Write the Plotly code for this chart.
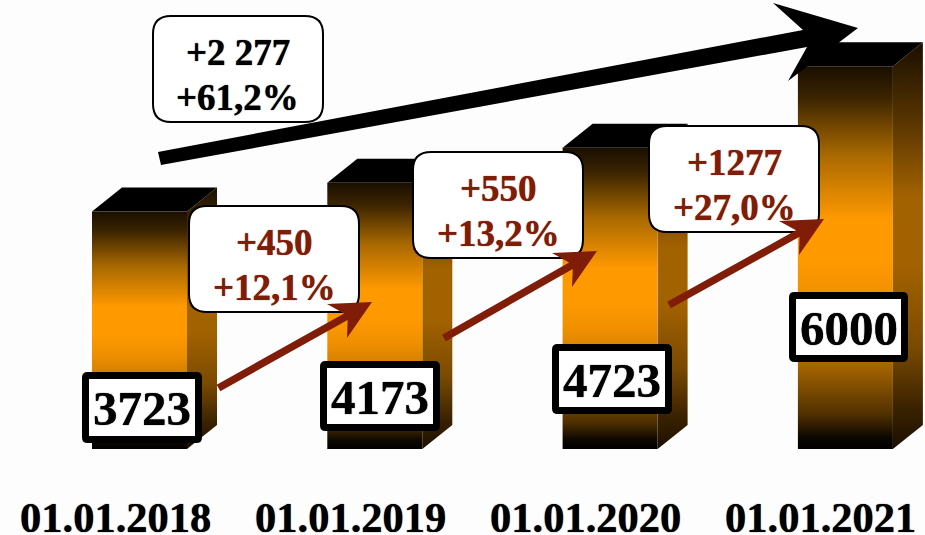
import plotly.graph_objects as go

# ---- data ----
dates = ["01.01.2018", "01.01.2019", "01.01.2020", "01.01.2021"]
values = [3723, 4173, 4723, 6000]
step_abs = ["+450", "+550", "+1277"]
step_pct = ["+12,1%", "+13,2%", "+27,0%"]
total_abs = ["+2 277"]
total_pct = ["+61,2%"]

# ---- layout constants ----
W, H = 925, 535
FONT = "Liberation Serif"
RED = "#7F1D08"
PX_PER_CAT = 235.3
CAT0_PX = 139.5
PX_PER_VAL = 0.0638
BASE_PX = 449
HALF_W = 47.5 / PX_PER_CAT
DX = 30 / PX_PER_CAT
DY = 24 / PX_PER_VAL


def fx(px):
    return px / W


def fy(px):
    return 1 - px / H


def path(points):
    return "M" + " L".join(f"{fx(x):.5f},{fy(y):.5f}" for x, y in points) + " Z"


def rounded(x0, y0, x1, y1, r):
    a, b = r / W, r / H
    l, rr, t, bt = fx(x0), fx(x1), fy(y0), fy(y1)
    return (f"M{l+a:.5f},{t:.5f} L{rr-a:.5f},{t:.5f} Q{rr:.5f},{t:.5f} {rr:.5f},{t-b:.5f} "
            f"L{rr:.5f},{bt+b:.5f} Q{rr:.5f},{bt:.5f} {rr-a:.5f},{bt:.5f} "
            f"L{l+a:.5f},{bt:.5f} Q{l:.5f},{bt:.5f} {l:.5f},{bt+b:.5f} "
            f"L{l:.5f},{t-b:.5f} Q{l:.5f},{t:.5f} {l+a:.5f},{t:.5f} Z")


front_scale = [[0, "#000000"], [0.03, "#0c0700"], [0.09, "#4f3000"], [0.245, "#b87000"], [0.40, "#f09000"],
               [0.49, "#ff9900"], [0.60, "#ff9900"], [0.77, "#a86800"], [0.92, "#3a2300"], [1, "#1a0f00"]]
side_scale = [[0, "#1a0f00"], [0.10, "#3a2200"], [0.25, "#7a4a00"], [0.45, "#a36200"],
              [0.62, "#a36200"], [0.80, "#5a3600"], [1, "#1a0f00"]]

fig = go.Figure()
for i, v in enumerate(values):
    l, r = i - HALF_W, i + HALF_W
    common = dict(mode="lines", line=dict(width=0), hoverinfo="skip", showlegend=False, fill="toself")
    fig.add_trace(go.Scatter(x=[r, r + DX, r + DX, r, r], y=[v, v + DY, DY, 0, v],
                             fillgradient=dict(type="vertical", colorscale=side_scale), **common))
    fig.add_trace(go.Scatter(x=[l, l + DX, r + DX, r, l], y=[v, v + DY, v + DY, v, v],
                             fillcolor="#000000", **common))
    fig.add_trace(go.Scatter(x=[l, r, r, l, l], y=[0, 0, v, v, 0],
                             fillgradient=dict(type="vertical", colorscale=front_scale), **common))

shapes = []
# big black arrow
shapes.append(dict(type="path", xref="paper", yref="paper", fillcolor="#000", line=dict(width=0),
                   path=path([(158, 152), (803, 30), (773, 3), (858, 28), (788, 81), (807, 47), (161, 165)])))

annotations = []


def box(x0, y0, x1, y1):
    shapes.append(dict(type="path", xref="paper", yref="paper", fillcolor="#fff",
                       line=dict(color="#000", width=2), path=rounded(x0, y0, x1, y1, 18)))


def text(x, y, s, color, size):
    annotations.append(dict(x=fx(x), y=fy(y), xref="paper", yref="paper", text=f"<b>{s}</b>", showarrow=False,
                            xanchor="center", yanchor="middle",
                            font=dict(family=FONT, size=size, color=color,
                                      shadow=f"0 0 1px {color}")))


box(153, 16, 323, 122)
text(238, 53, total_abs[0], "#000", 37)
text(238, 98, total_pct[0], "#000", 37)

step_boxes = [(189, 206, 359, 312), (413, 152, 583, 258), (649, 126, 819, 232)]
step_arrows = [((218.5, 388), (372, 302)), ((444, 338), (597, 251)), ((669, 305), (824, 219))]
for k, b in enumerate(step_boxes):
    box(*b)
    text((b[0] + b[2]) / 2, b[1] + 36, step_abs[k], RED, 37)
    text((b[0] + b[2]) / 2, b[1] + 81, step_pct[k], RED, 37)

for (tx, ty), (hx, hy) in step_arrows:
    ln = ((hx - tx) ** 2 + (hy - ty) ** 2) ** 0.5
    ux, uy = (hx - tx) / ln, (hy - ty) / ln
    nx, ny = -uy, ux
    t = 3.7
    jx, jy = hx - 30 * ux, hy - 30 * uy
    pts = [(tx - nx * t, ty - ny * t), (jx - nx * t, jy - ny * t), (hx - 45, hy + 2), (hx, hy),
           (hx - 25, hy + 36), (jx + nx * t, jy + ny * t), (tx + nx * t, ty + ny * t)]
    shapes.append(dict(type="path", xref="paper", yref="paper", fillcolor=RED, line=dict(width=0), path=path(pts)))

value_boxes = [(82, 372, 202, 443), (320, 361, 440, 431), (552, 344, 672, 414), (789, 292, 908, 362)]
for k, b in enumerate(value_boxes):
    shapes.append(dict(type="path", xref="paper", yref="paper", fillcolor="#fff",
                       line=dict(color="#000", width=7),
                       path=rounded(b[0] + 3.5, b[1] + 3.5, b[2] - 3.5, b[3] - 3.5, 2)))
    text((b[0] + b[2]) / 2, (b[1] + b[3]) / 2 + 1, str(values[k]), "#000", 49)

for i, d in enumerate(dates):
    annotations.append(dict(x=i - 24.5 / PX_PER_CAT, y=fy(517), xref="x", yref="paper", text=f"<b>{d}</b>",
                            showarrow=False, xanchor="center", yanchor="middle",
                            font=dict(family=FONT, size=42.5, color="#000", shadow="0 0 1px #000")))

fig.update_layout(
    width=W, height=H, margin=dict(l=0, r=0, t=0, b=0),
    paper_bgcolor="#FDFDFD", plot_bgcolor="#FDFDFD", showlegend=False,
    xaxis=dict(visible=False, range=[-CAT0_PX / PX_PER_CAT, (W - CAT0_PX) / PX_PER_CAT], fixedrange=True),
    yaxis=dict(visible=False, range=[(BASE_PX - H) / PX_PER_VAL, BASE_PX / PX_PER_VAL], fixedrange=True),
    shapes=shapes, annotations=annotations,
)
fig.write_html("out.html", config={"displayModeBar": False},
               post_script="document.body.style.margin='0';document.body.style.background='#FDFDFD';")
